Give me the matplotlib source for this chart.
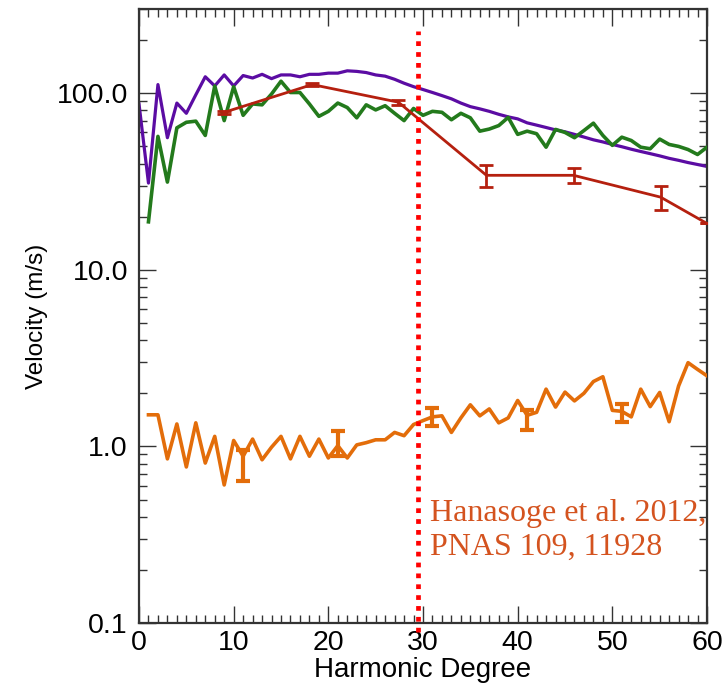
import numpy as np
import matplotlib
matplotlib.use('Agg')
import matplotlib.pyplot as plt
from matplotlib.ticker import MultipleLocator, LogLocator, FixedLocator, FixedFormatter, NullFormatter

plt.rcParams['font.family'] = ['Liberation Sans', 'DejaVu Sans']

# purple curve, one value per harmonic degree 0..60
purple_x = list(range(0, 61))
purple_v = [87, 31, 112, 56, 88, 77, 98, 124, 110, 127, 110, 126, 122, 128, 121, 127,
            127, 124, 128, 128, 130, 130, 134, 133, 131, 127, 125, 120, 114, 109, 105,
            101, 97, 93, 88, 84, 81.6, 79, 76, 73.5, 71.6, 68, 66, 64, 62, 60.5, 58.5,
            56.5, 54.5, 53, 51.3, 49.8, 48.2, 46.8, 45.5, 44.2, 42.8, 41.7, 40.5, 39.5, 38.5]

# green curve, degrees 1..60
green_x = list(range(1, 61))
green_v = [18.7, 57, 31.4, 63.7, 68.5, 69.5, 57.7, 110, 70, 109, 75, 87, 86, 99, 117,
           101, 101, 87, 74, 79, 88, 83, 72.6, 86, 80.5, 85, 77, 70, 82, 75, 79, 78,
           70.8, 77, 72.6, 61, 62.7, 65.6, 73, 58.5, 61, 59, 49.5, 62.4, 60, 56, 61.5,
           67.7, 57.7, 50.7, 56.4, 54, 49.5, 48.5, 55, 51.3, 50, 48, 45, 49.5]

# dark red binned curve
red_x = [9.0, 18.3, 27.4, 36.7, 45.9, 55.1, 60.0]
red_v = [78, 112, 89, 34.3, 34.3, 25.8, 18.3]
red_err = [1.5, 2.0, 3.0, 5.0, 3.2, 4.0, 0.0]

# orange curve, degrees 1..60
orange_x = list(range(1, 61))
orange_v = [1.51, 1.51, 0.85, 1.34, 0.765, 1.36, 0.805, 1.14, 0.605, 1.08, 0.88, 1.10,
            0.84, 0.99, 1.14, 0.85, 1.14, 0.88, 1.10, 0.86, 1.01, 0.86, 1.02, 1.05, 1.09,
            1.09, 1.20, 1.15, 1.33, 1.40, 1.47, 1.49, 1.20, 1.45, 1.72, 1.49, 1.63, 1.36,
            1.45, 1.82, 1.50, 1.56, 2.11, 1.67, 2.03, 1.81, 2.00, 2.33, 2.48, 1.60, 1.58,
            1.47, 2.11, 1.68, 2.02, 1.38, 2.20, 2.98, 2.73, 2.51]

# orange error bars
oerr_x = [11, 21, 31, 41, 51]
oerr_v = [0.80, 1.05, 1.47, 1.42, 1.56]
oerr_e = [0.16, 0.17, 0.17, 0.18, 0.18]

cut_x = 29.5
note = "Hanasoge et al. 2012,\nPNAS 109, 11928"

fig = plt.figure(figsize=(7.27, 6.88), dpi=100)
ax = fig.add_axes([0.1912, 0.0945, 0.7813, 0.8924])

ax.plot(purple_x, purple_v, color='#5b0ca3', lw=2.3, zorder=2)
ax.plot(green_x, green_v, color='#237a1c', lw=2.6, zorder=3)
ax.errorbar(red_x, red_v, yerr=red_err, color='#b5200f', lw=2.0, elinewidth=2.0,
            capsize=5, capthick=2.0, zorder=4)
ax.plot(orange_x, orange_v, color='#e36d0a', lw=2.6, zorder=5)
ax.errorbar(oerr_x, oerr_v, yerr=oerr_e, fmt='none', ecolor='#e36d0a', elinewidth=3.0,
            capsize=5, capthick=3.0, zorder=5)

ax.plot([cut_x, cut_x], [0.089, 226], color='#ff0000', lw=3.4, dashes=(1, 1.3),
        dash_capstyle='butt', clip_on=False, zorder=6)

ax.text(30.7, 0.335, note, color='#d4531f', fontsize=23, family=['Liberation Serif'],
        va='center', ha='left', linespacing=1.22)

ax.set_yscale('log')
ax.set_xlim(0, 60)
ax.set_ylim(0.1, 300)

ax.xaxis.set_major_locator(MultipleLocator(10))
ax.xaxis.set_minor_locator(MultipleLocator(1))
ax.yaxis.set_major_locator(FixedLocator([0.1, 1, 10, 100]))
ax.yaxis.set_major_formatter(FixedFormatter(['0.1', '1.0', '10.0', '100.0']))
ax.yaxis.set_minor_locator(LogLocator(base=10, subs=np.arange(2, 10)))
ax.yaxis.set_minor_formatter(NullFormatter())

ax.tick_params(which='both', direction='in', top=True, right=True, color='#333333',
               labelsize=20.5, width=1.0)
ax.tick_params(which='major', length=12)
ax.tick_params(which='minor', length=6)
ax.tick_params(axis='y', pad=8)
ax.tick_params(axis='x', pad=5)
for s in ax.spines.values():
    s.set_linewidth(1.6)
    s.set_color('#333333')

ax.set_xlabel('Harmonic Degree', fontsize=20, labelpad=1)
ax.set_ylabel('Velocity (m/s)', fontsize=17.5, labelpad=6)

fig.savefig('out.png', dpi=100)
